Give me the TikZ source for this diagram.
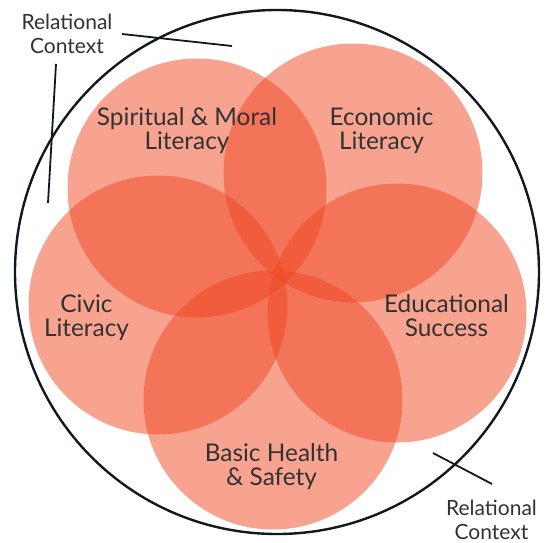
\documentclass[tikz,border=0pt]{standalone}
\usepackage{fontspec}
\setmainfont{Lato}
\definecolor{petal}{RGB}{239,71,33}
\definecolor{ink}{RGB}{16,24,32}
\definecolor{txt}{RGB}{50,50,50}
\begin{document}
\begin{tikzpicture}[x=1pt,y=-1pt,
  petalc/.style={fill=petal,fill opacity=0.5,draw=none},
  lab/.style={text=txt,align=center,font=\fontsize{24.4}{24}\selectfont,inner sep=0pt},
  rel/.style={text=txt,align=center,font=\fontsize{21}{24}\selectfont,inner sep=0pt},
  callout/.style={draw=ink,line width=1.8pt},
  outer/.style={draw=ink,line width=2.4pt}]
\useasboundingbox (0,0) rectangle (550,542);
\coordinate (Cspir) at (197,188);
\coordinate (Cecon) at (353,173);
\coordinate (Cciv) at (158,305);
\coordinate (Cedu) at (397,313);
\coordinate (Cbas) at (273,400);
\fill[petalc] (Cspir) circle (129.5);
\fill[petalc] (Cecon) circle (129.5);
\fill[petalc] (Cciv) circle (129.5);
\fill[petalc] (Cedu) circle (129.5);
\fill[petalc] (Cbas) circle (129.5);
\coordinate (R) at (277,272);
\draw[outer] (R) circle (262);
\node[lab] (spir) at (187,130.7) {Spiritual \& Moral\\Literacy};
\node[lab] (econ) at (381.5,130.5) {Economic\\Literacy};
\node[lab] (civ) at (86.5,318) {Civic\\Literacy};
\node[lab] (edu) at (446.5,315.7) {Educational\\Success};
\node[lab] (bas) at (271.5,467) {Basic Health\\\& Safety};
\node[rel] (relA) at (67,33.5) {Relational\\Context};
\node[rel] (relB) at (491.5,519.5) {Relational\\Context};
\coordinate (a1) at (122,34);
\coordinate (a2) at (232,46);
\coordinate (b1) at (56,64);
\coordinate (b2) at (48,203);
\coordinate (c1) at (433,453);
\coordinate (c2) at (492,484);
\draw[callout] (a1) -- (a2);
\draw[callout] (b1) -- (b2);
\draw[callout] (c1) -- (c2);
\end{tikzpicture}
\end{document}
